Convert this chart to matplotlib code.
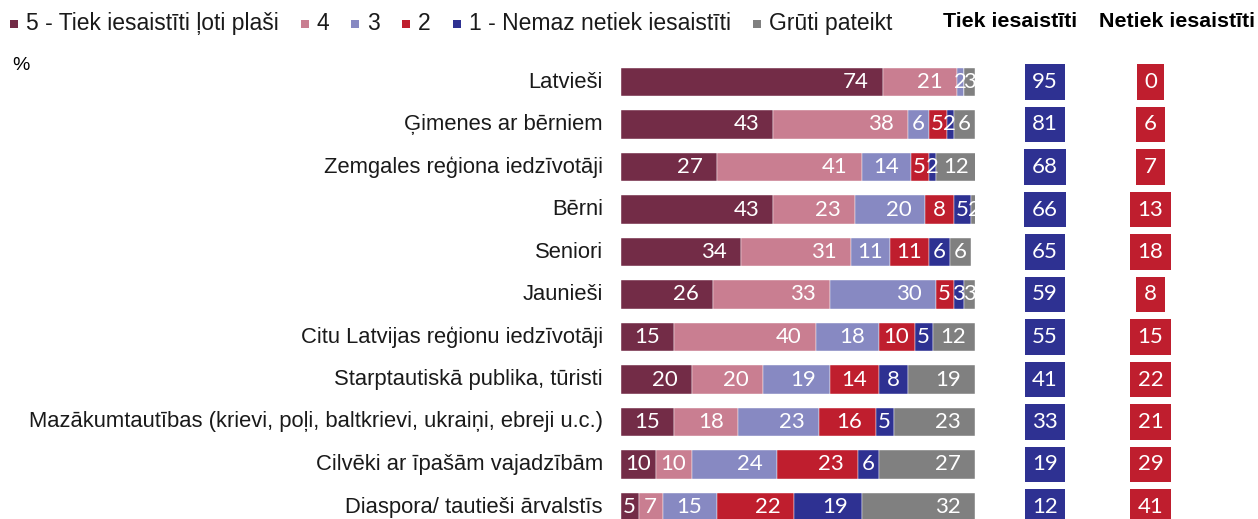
import numpy as np
import matplotlib
matplotlib.use("Agg")
import matplotlib.pyplot as plt
from matplotlib.patches import Rectangle
from matplotlib.transforms import blended_transform_factory

categories = ["Latvieši", "Ģimenes ar bērniem", "Zemgales reģiona iedzīvotāji", "Bērni",
              "Seniori", "Jaunieši", "Citu Latvijas reģionu iedzīvotāji",
              "Starptautiskā publika, tūristi",
              "Mazākumtautības (krievi, poļi, baltkrievi, ukraiņi, ebreji u.c.)",
              "Cilvēki ar īpašām vajadzībām", "Diaspora/ tautieši ārvalstīs"]
series_names = ["5 - Tiek iesaistīti ļoti plaši", "4", "3", "2",
                "1 - Nemaz netiek iesaistīti", "Grūti pateikt"]
v5 = [74, 43, 27, 43, 34, 26, 15, 20, 15, 10, 5]
v4 = [21, 38, 41, 23, 31, 33, 40, 20, 18, 10, 7]
v3 = [2, 6, 14, 20, 11, 30, 18, 19, 23, 24, 15]
v2 = [0, 5, 5, 8, 11, 5, 10, 14, 16, 23, 22]
v1 = [0, 2, 2, 5, 6, 3, 5, 8, 5, 6, 19]
vg = [3, 6, 12, 2, 6, 3, 12, 19, 23, 27, 32]
tiek = [95, 81, 68, 66, 65, 59, 55, 41, 33, 19, 12]
netiek = [0, 6, 7, 13, 18, 8, 15, 22, 21, 29, 41]

COLORS = ["#732C47", "#C97E91", "#8789C2", "#BF1E2E", "#2E3192", "#808080"]
BLUE, RED = "#2E3192", "#BF1E2E"
LBL = "Liberation Sans"
NUM = "Lato"

W, H = 1258, 519
fig = plt.figure(figsize=(W / 100, H / 100), dpi=100)
y_top, y_bot = 60.75, 528.25
ax = fig.add_axes([621 / W, (H - y_bot) / H, (975 - 621) / W, (y_bot - y_top) / H])
ax.set_xlim(0, 100)
ax.set_ylim(len(categories) - 0.5, -0.5)
ax.axis("off")

DIGIT = 3.4   # approx. width of one digit in data units
y = np.arange(len(categories))
left = np.zeros(len(categories))
for vals, col in zip([v5, v4, v3, v2, v1, vg], COLORS):
    vals = np.array(vals, dtype=float)
    ax.barh(y, vals, left=left, height=0.66, color=col, edgecolor="white", linewidth=0.3)
    for yi, l, v in zip(y, left, vals):
        if v > 0:
            s = f"{int(v)}"
            pad = min(4.0, (v - len(s) * DIGIT) / 2)   # inside end, centred when narrow
            ax.text(l + v - pad, yi, s, ha="right", va="center", color="white",
                    fontsize=16, family=NUM)
    left += vals

# category labels
for yi, c in zip(y, categories):
    ax.text(-5.1, yi, c, ha="right", va="center", fontsize=15.8, family=LBL, color="#1a1a1a")

# summary boxes
tr = blended_transform_factory(fig.transFigure, ax.transData)
for yi, t, n in zip(y, tiek, netiek):
    ax.text(1045 / W, yi, f"{t}", transform=tr, ha="center", va="center", color="white",
            fontsize=16, family=NUM,
            bbox=dict(boxstyle="square,pad=0.34", fc=BLUE, ec="none"))
    ax.text(1150.5 / W, yi, f"{n}", transform=tr, ha="center", va="center", color="white",
            fontsize=16, family=NUM,
            bbox=dict(boxstyle="square,pad=0.34", fc=RED, ec="none"))

fig.text(1010 / W, 1 - 22 / H, "Tiek iesaistīti", ha="center", va="center",
         fontsize=15.4, fontweight="bold", family=LBL)
fig.text(1177 / W, 1 - 22 / H, "Netiek iesaistīti", ha="center", va="center",
         fontsize=15.4, fontweight="bold", family=LBL)
fig.text(12 / W, 1 - 66 / H, "%", ha="left", va="center", fontsize=14, family=LBL)

# legend, laid out by hand (small squares, text measured with the renderer)
renderer = fig.canvas.get_renderer()
x = 10
for name, col in zip(series_names, COLORS):
    fig.add_artist(Rectangle((x / W, 1 - 28 / H), 8 / W, 8 / H, transform=fig.transFigure,
                             fc=col, ec="none"))
    t = fig.text((x + 16) / W, 1 - 23.5 / H, name, ha="left", va="center",
                 fontsize=16.5, family=LBL, color="#1a1a1a")
    x = x + 16 + t.get_window_extent(renderer).width + 22

fig.savefig("out.png", dpi=100)
